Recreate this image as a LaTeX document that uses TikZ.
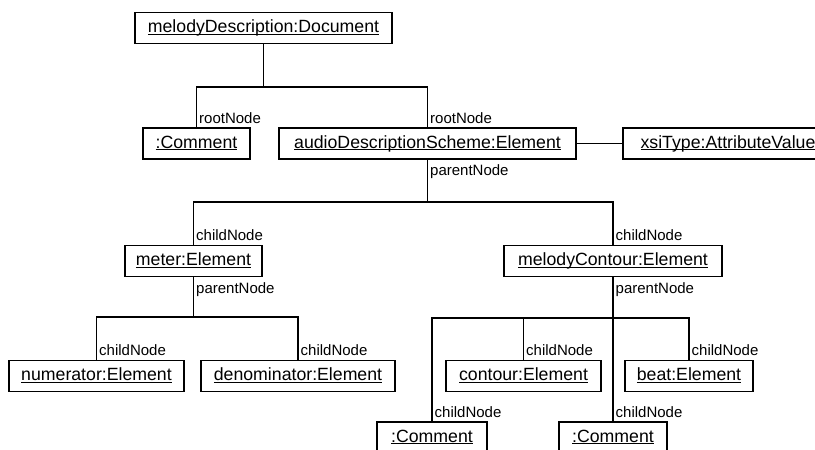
\documentclass[tikz,border=0pt]{standalone}
\usepackage{fontspec}
\setmainfont{Liberation Sans}
% object names are underlined with a thin rule just under the baseline
\newsavebox\ulsave
\newcommand\objname[1]{\sbox\ulsave{#1}\rlap{\rule[-2pt]{\wd\ulsave}{0.9pt}}\usebox\ulsave}

\begin{document}
\begin{tikzpicture}[x=1pt,y=-1pt,
  obj/.style={draw, line width=1.3pt, minimum height=31pt, inner sep=0pt,
    text height=13pt, text depth=4pt, font=\fontsize{17.7}{20}\selectfont},
  link/.style={line width=1.3pt},
  rolelbl/.style={inner sep=0pt, font=\fontsize{15}{17}\selectfont},
  childlbl/.style={rolelbl, anchor=base west, xshift=2.5pt, yshift=4pt},
  parentlbl/.style={rolelbl, anchor=north west, xshift=2.5pt, yshift=-5pt}]

\useasboundingbox (0,0) rectangle (815,450);
\clip (0,0) rectangle (815,450);

% object boxes
\node[obj, minimum width=257pt] (doc)     at (263.5,28)  {\objname{melodyDescription:Document}};
\node[obj, minimum width=107pt] (com1)    at (196.5,143.5) {\objname{:Comment}};
\node[obj, minimum width=297pt] (audio)   at (427.5,143.5) {\objname{audioDescriptionScheme:Element}};
\node[obj, minimum width=210pt] (xsi)     at (728,143.5) {\objname{xsiType:AttributeValue}};
\node[obj, minimum width=137pt] (meter)   at (193.5,261) {\objname{meter:Element}};
\node[obj, minimum width=218pt] (mc)      at (613,261)   {\objname{melodyContour:Element}};
\node[obj, minimum width=175pt] (num)     at (96.5,376)  {\objname{numerator:Element}};
\node[obj, minimum width=194pt] (den)     at (298,376)   {\objname{denominator:Element}};
\node[obj, minimum width=155pt] (contour) at (523.5,376) {\objname{contour:Element}};
\node[obj, minimum width=128pt] (beat)    at (689,376)   {\objname{beat:Element}};
\node[obj, minimum width=110pt] (com2)    at (432,437.5) {\objname{:Comment}};
\node[obj, minimum width=108pt] (com3)    at (613,437.5) {\objname{:Comment}};

% heights of the horizontal buses
\coordinate (bus0) at (0,87);
\coordinate (bus1) at (0,202);
\coordinate (bus2) at (0,317);
\coordinate (bus3) at (0,318);

% tree connectors
\draw[link] (doc.south) -- (doc.south |- bus0) -| (com1.north);
\draw[link] (doc.south) -- (doc.south |- bus0) -| (audio.north);
\draw[link] (audio.east) -- (xsi.west);
\draw[link] (audio.south) -- (audio.south |- bus1) -| (meter.north);
\draw[link] (audio.south) -- (audio.south |- bus1) -| (mc.north);
\draw[link] (meter.south) -- (meter.south |- bus2) -| (num.north);
\draw[link] (meter.south) -- (meter.south |- bus2) -| (den.north);
\draw[link] (mc.south) -- (mc.south |- bus3) -| (com2.north);
\draw[link] (mc.south) -- (mc.south |- bus3) -| (contour.north);
\draw[link] (mc.south) -- (com3.north);
\draw[link] (mc.south) -- (mc.south |- bus3) -| (beat.north);

% role labels
\node[childlbl] (r-com1)  at (com1.north)  {rootNode};
\node[childlbl] (r-audio) at (audio.north) {rootNode};
\node[parentlbl] (p-audio) at (audio.south) {parentNode};
\node[childlbl] (c-meter) at (meter.north) {childNode};
\node[childlbl] (c-mc)    at (mc.north)    {childNode};
\node[parentlbl] (p-meter) at (meter.south) {parentNode};
\node[parentlbl] (p-mc)    at (mc.south)    {parentNode};
\node[childlbl] (c-num)     at (num.north)     {childNode};
\node[childlbl] (c-den)     at (den.north)     {childNode};
\node[childlbl] (c-contour) at (contour.north) {childNode};
\node[childlbl] (c-beat)    at (beat.north)    {childNode};
\node[childlbl] (c-com2)    at (com2.north)    {childNode};
\node[childlbl] (c-com3)    at (com3.north)    {childNode};
\end{tikzpicture}
\end{document}
